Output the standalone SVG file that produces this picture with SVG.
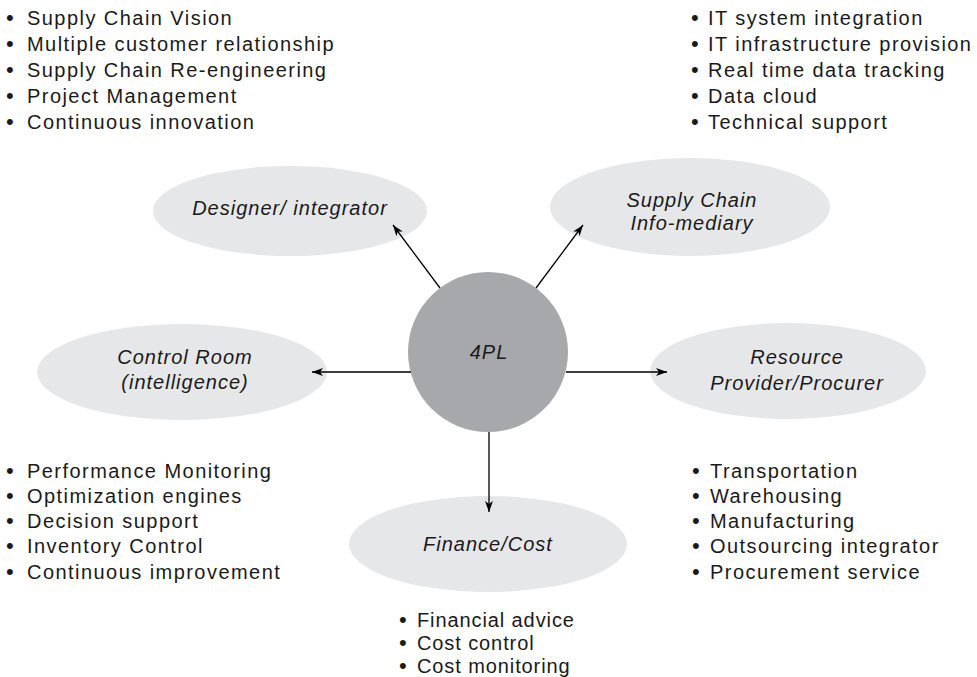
<svg xmlns="http://www.w3.org/2000/svg" width="977" height="677" viewBox="0 0 977 677">
<style>
.bg{fill:#ffffff}
.el{fill:#e6e7e8}
.hub{fill:#a7a8ab}
.lbl{font-family:"Liberation Sans",Arial,sans-serif;font-size:20px;font-style:italic;fill:#1a1a1a;text-anchor:middle;letter-spacing:1px}
.lst{font-family:"Liberation Sans",Arial,sans-serif;font-size:20px;fill:#1a1a1a;letter-spacing:1.45px}
.lsf{letter-spacing:0.9px}
.b{font-size:22px}
.con{stroke:#000;stroke-width:1.3;fill:none;marker-end:url(#ah)}
</style>
<defs>
<marker id="ah" markerUnits="userSpaceOnUse" markerWidth="12" markerHeight="8" refX="11" refY="4" orient="auto">
<path d="M0,0 L11,4 L0,8 L3,4 z" fill="#000"/>
</marker>
</defs>
<rect class="bg" x="0" y="0" width="977" height="677"/>

<g id="designer">
<ellipse class="el" cx="290" cy="211" rx="137" ry="45"/>
<text class="lbl" x="290" y="215">Designer/ integrator</text>
</g>
<g id="infomediary">
<ellipse class="el" cx="690" cy="207" rx="140" ry="49"/>
<text class="lbl" x="692" y="207">Supply Chain</text>
<text class="lbl" x="692" y="230">Info-mediary</text>
</g>
<g id="controlroom">
<ellipse class="el" cx="182" cy="372" rx="145" ry="48"/>
<text class="lbl" x="185" y="364">Control Room</text>
<text class="lbl" x="185" y="389">(intelligence)</text>
</g>
<g id="resource">
<ellipse class="el" cx="788" cy="371" rx="138" ry="48"/>
<text class="lbl" x="797" y="364">Resource</text>
<text class="lbl" x="797" y="390">Provider/Procurer</text>
</g>
<g id="finance">
<ellipse class="el" cx="488" cy="544" rx="139" ry="48"/>
<text class="lbl" x="488" y="551">Finance/Cost</text>
</g>
<g id="hub4pl">
<circle class="hub" cx="488" cy="352" r="80"/>
<text class="lbl" x="489" y="359">4PL</text>
</g>

<g id="connectors">
<line class="con" x1="440" y1="288" x2="393" y2="225"/>
<line class="con" x1="536" y1="288" x2="583" y2="225"/>
<line class="con" x1="411" y1="372" x2="312" y2="372"/>
<line class="con" x1="566" y1="372" x2="667" y2="372"/>
<line class="con" x1="489" y1="432" x2="489" y2="512"/>
</g>

<g id="list-designer" class="lst">
<text y="25"><tspan class="b" x="6">•</tspan><tspan x="27">Supply Chain Vision</tspan></text>
<text y="51"><tspan class="b" x="6">•</tspan><tspan x="27">Multiple customer relationship</tspan></text>
<text y="77"><tspan class="b" x="6">•</tspan><tspan x="27">Supply Chain Re-engineering</tspan></text>
<text y="103"><tspan class="b" x="6">•</tspan><tspan x="27">Project Management</tspan></text>
<text y="129"><tspan class="b" x="6">•</tspan><tspan x="27">Continuous innovation</tspan></text>
</g>
<g id="list-infomediary" class="lst">
<text y="25"><tspan class="b" x="691">•</tspan><tspan x="708">IT system integration</tspan></text>
<text y="51"><tspan class="b" x="691">•</tspan><tspan x="708">IT infrastructure provision</tspan></text>
<text y="77"><tspan class="b" x="691">•</tspan><tspan x="708">Real time data tracking</tspan></text>
<text y="103"><tspan class="b" x="691">•</tspan><tspan x="708">Data cloud</tspan></text>
<text y="129"><tspan class="b" x="691">•</tspan><tspan x="708">Technical support</tspan></text>
</g>
<g id="list-controlroom" class="lst">
<text y="478"><tspan class="b" x="6">•</tspan><tspan x="27">Performance Monitoring</tspan></text>
<text y="503"><tspan class="b" x="6">•</tspan><tspan x="27">Optimization engines</tspan></text>
<text y="528"><tspan class="b" x="6">•</tspan><tspan x="27">Decision support</tspan></text>
<text y="553"><tspan class="b" x="6">•</tspan><tspan x="27">Inventory Control</tspan></text>
<text y="579"><tspan class="b" x="6">•</tspan><tspan x="27">Continuous improvement</tspan></text>
</g>
<g id="list-resource" class="lst">
<text y="478"><tspan class="b" x="692">•</tspan><tspan x="710">Transportation</tspan></text>
<text y="503"><tspan class="b" x="692">•</tspan><tspan x="710">Warehousing</tspan></text>
<text y="528"><tspan class="b" x="692">•</tspan><tspan x="710">Manufacturing</tspan></text>
<text y="553"><tspan class="b" x="692">•</tspan><tspan x="710">Outsourcing integrator</tspan></text>
<text y="579"><tspan class="b" x="692">•</tspan><tspan x="710">Procurement service</tspan></text>
</g>
<g id="list-finance" class="lst lsf">
<text y="627"><tspan class="b" x="399">•</tspan><tspan x="417">Financial advice</tspan></text>
<text y="650"><tspan class="b" x="399">•</tspan><tspan x="417">Cost control</tspan></text>
<text y="673"><tspan class="b" x="399">•</tspan><tspan x="417">Cost monitoring</tspan></text>
</g>
</svg>
